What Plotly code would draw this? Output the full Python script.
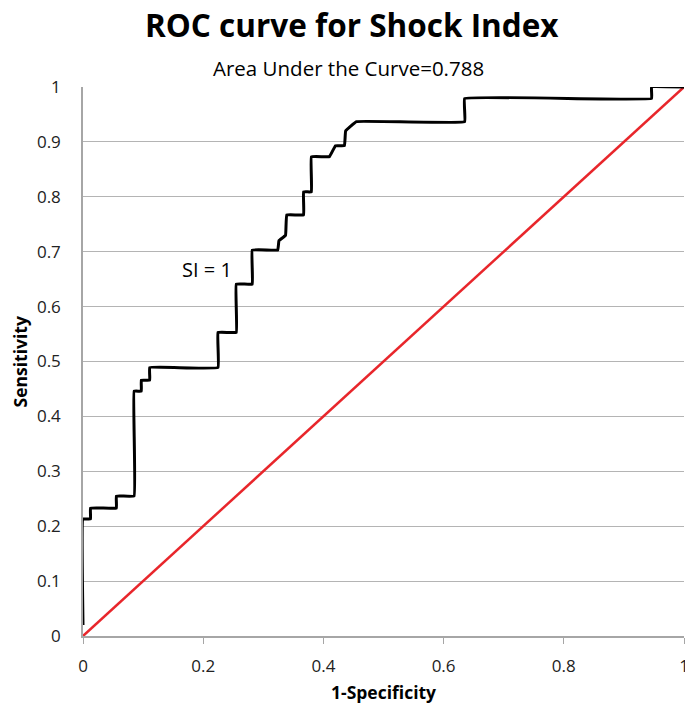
import plotly.graph_objects as go

# ROC curve points (1-Specificity, Sensitivity)
fpr = [0, 0, 0.0125, 0.0125, 0.0555, 0.0555, 0.085, 0.085, 0.097, 0.097,
       0.111, 0.111, 0.2246, 0.2246, 0.255, 0.255, 0.2816, 0.2816, 0.324,
       0.326, 0.337, 0.339, 0.367, 0.367, 0.380, 0.380, 0.41, 0.42, 0.435,
       0.437, 0.455, 0.635, 0.635, 0.946, 0.946, 1.0]
tpr = [0.02, 0.213, 0.213, 0.233, 0.233, 0.255, 0.255, 0.446, 0.446, 0.466,
       0.466, 0.489, 0.489, 0.553, 0.553, 0.641, 0.641, 0.703, 0.703,
       0.72, 0.73, 0.767, 0.767, 0.809, 0.809, 0.873, 0.873, 0.893, 0.893,
       0.92, 0.937, 0.937, 0.979, 0.979, 1.0, 1.0]
ref_x = [0, 1]
ref_y = [0, 1]

x_ticks = [0, 0.2, 0.4, 0.6, 0.8, 1]
x_tick_text = ["0", "0.2", "0.4", "0.6", "0.8", "1"]
y_ticks = [0, 0.1, 0.2, 0.3, 0.4, 0.5, 0.6, 0.7, 0.8, 0.9, 1]
y_tick_text = ["0", "0.1", "0.2", "0.3", "0.4", "0.5", "0.6", "0.7", "0.8", "0.9", "1"]

FONT = "Open Sans"

fig = go.Figure()
fig.add_trace(go.Scatter(x=ref_x, y=ref_y, mode="lines",
                         line=dict(color="#e8262b", width=2.5),
                         hoverinfo="skip", showlegend=False, cliponaxis=False))
fig.add_trace(go.Scatter(x=fpr, y=tpr, mode="lines",
                         line=dict(color="black", width=3, shape="spline", smoothing=0.2),
                         showlegend=False, cliponaxis=False))

fig.update_layout(
    width=685, height=707,
    margin=dict(l=83, r=1, t=87, b=71, autoexpand=False),
    plot_bgcolor="white", paper_bgcolor="white",
    font=dict(family=FONT, size=17, color="black"),
    xaxis=dict(range=[0, 1], tickvals=x_ticks, ticktext=x_tick_text,
               showgrid=False, zeroline=False, showline=True,
               linecolor="#a6a6a6", linewidth=1.5, automargin=False,
               ticks="outside", ticklen=6, tickcolor="#a6a6a6",
               ticklabeloverflow="allow",
               ticklabelstandoff=8, tickfont=dict(size=17, color="#222222")),
    yaxis=dict(range=[0, 1], tickvals=y_ticks, ticktext=y_tick_text,
               showgrid=True, gridcolor="#b4b4b4", gridwidth=1, automargin=False,
               zeroline=False, showline=True, linecolor="#a6a6a6", linewidth=1.5,
               ticks="", ticklabelstandoff=17,
               tickfont=dict(size=17, color="#222222")),
    annotations=[
        dict(text="<b>ROC curve for Shock Index</b>", x=0.447, y=1.113,
             xref="paper", yref="paper", showarrow=False,
             xanchor="center", yanchor="middle", font=dict(size=31.5, family=FONT)),
        dict(text="Area Under the Curve=0.788", x=0.442, y=1.035,
             xref="paper", yref="paper", showarrow=False,
             xanchor="center", yanchor="middle", font=dict(size=20.5, family=FONT)),
        dict(text="<b>1-Specificity</b>", x=0.5, y=-0.102,
             xref="paper", yref="paper", showarrow=False,
             xanchor="center", yanchor="middle", font=dict(size=17.5, family=FONT)),
        dict(text="<b>Sensitivity</b>", x=-0.105, y=0.5, textangle=-90,
             xref="paper", yref="paper", showarrow=False,
             xanchor="center", yanchor="middle", font=dict(size=17.5, family=FONT)),
        dict(text="SI = 1", x=0.206, y=0.667, xref="x", yref="y",
             showarrow=False, xanchor="center", yanchor="middle",
             font=dict(size=20, family=FONT)),
    ],
)

fig.write_html("out.html",
               config={"displayModeBar": False},
               post_script="document.body.style.margin='0';"
                           "document.body.style.overflow='hidden';")
